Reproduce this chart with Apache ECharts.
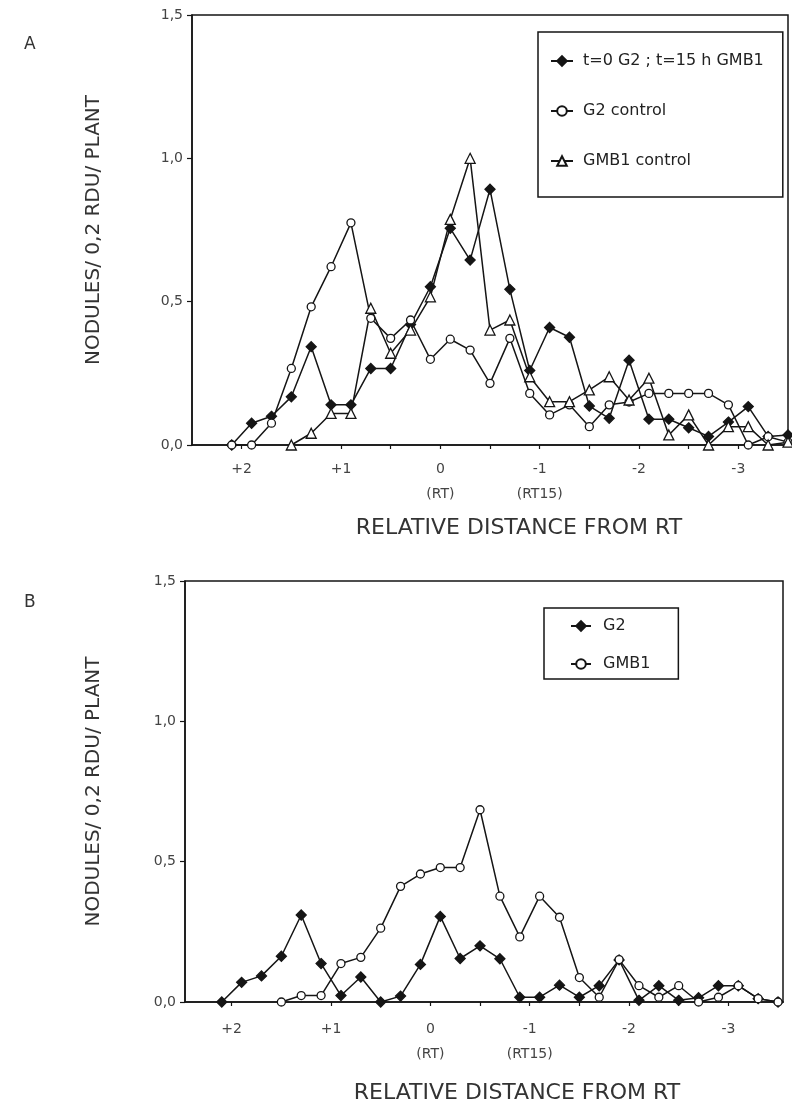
<!DOCTYPE html>
<html>
<head>
<meta charset="utf-8">
<script src="https://cdn.jsdelivr.net/npm/echarts@6/dist/echarts.min.js"></script>
<style>
html, body { margin: 0; padding: 0; background: #fff; }
#chart { width: 792px; height: 1105px; }
</style>
</head>
<body>
<div id="chart"></div>
<script>
// centre of each 0.2 RDU bin, relative distance from RT
const distances = [2.1, 1.9, 1.7, 1.5, 1.3, 1.1, 0.9, 0.7, 0.5, 0.3, 0.1, -0.1, -0.3, -0.5, -0.7,
  -0.9, -1.1, -1.3, -1.5, -1.7, -1.9, -2.1, -2.3, -2.5, -2.7, -2.9, -3.1, -3.3, -3.5]

// panel A
const aInoculated = [0, 0.076, 0.1, 0.168, 0.343, 0.14, 0.14, 0.267, 0.267, 0.42, 0.552, 0.756, 0.645, 0.892, 0.543,
  0.26, 0.41, 0.376, 0.136, 0.093, 0.296, 0.09, 0.09, 0.06, 0.03, 0.08, 0.134, 0.03, 0.035]
const aG2Control = [0, 0, 0.076, 0.267, 0.482, 0.622, 0.775, 0.442, 0.372, 0.436, 0.299, 0.369, 0.331, 0.215, 0.372,
  0.18, 0.105, 0.14, 0.064, 0.14, 0.15, 0.18, 0.18, 0.18, 0.18, 0.14, 0, 0.029, 0.01]
const aGMB1Control = [null, null, null, 0, 0.041, 0.11, 0.11, 0.477, 0.32, 0.401, 0.517, 0.787, 1.0, 0.401, 0.436,
  0.238, 0.151, 0.151, 0.192, 0.238, 0.157, 0.233, 0.035, 0.105, 0, 0.064, 0.064, 0, 0.01]

// panel B
const bG2 = [0, 0.07, 0.093, 0.163, 0.31, 0.137, 0.023, 0.089, 0, 0.021, 0.134, 0.305, 0.155, 0.2, 0.154,
  0.017, 0.017, 0.06, 0.017, 0.058, 0.15, 0.006, 0.058, 0.006, 0.015, 0.058, 0.058, 0.012, 0]
const bGMB1 = [null, null, null, 0, 0.023, 0.023, 0.137, 0.159, 0.263, 0.412, 0.456, 0.479, 0.479, 0.685, 0.377,
  0.232, 0.377, 0.302, 0.087, 0.017, 0.151, 0.058, 0.017, 0.058, 0, 0.017, 0.058, 0.012, 0]

const xTickValues = [2, 1.5, 1, 0.5, 0, -0.5, -1, -1.5, -2, -2.5, -3]
const xLabelValues = [2, 1, 0, -1, -2, -3]
const xSubLabels = { '0': '(RT)', '-1': '(RT15)' }

const FONT = 'DejaVu Sans'
const INK = '#151515'

const chart = echarts.init(document.getElementById('chart'))

function pairs (values) {
  const out = []
  values.forEach((v, i) => {
    if (v !== null) out.push([distances[i], v])
  })
  return out
}

function makeSeries (name, values, symbol, filled, idx) {
  return {
    name: name,
    type: 'line',
    xAxisIndex: idx,
    yAxisIndex: idx,
    data: pairs(values),
    symbol: symbol,
    symbolSize: symbol === 'circle' ? 8 : 10,
    showAllSymbol: true,
    lineStyle: { color: INK, width: 1.5 },
    itemStyle: { color: filled ? INK : '#fff', borderColor: INK, borderWidth: 1.3 },
    emphasis: { disabled: true }
  }
}

function xAxis (idx, min, max, margin, gap) {
  return {
    type: 'value',
    gridIndex: idx,
    inverse: true,
    min: min,
    max: max,
    name: 'RELATIVE DISTANCE FROM RT',
    nameLocation: 'middle',
    nameGap: gap,
    nameMoveOverlap: false,
    nameTextStyle: { fontFamily: FONT, fontSize: 22, color: '#333', padding: [0, 0, 0, idx === 0 ? 58 : 66] },
    axisLine: { onZero: false, lineStyle: { color: INK, width: 1.5 } },
    axisTick: { length: 4, customValues: xTickValues, lineStyle: { color: INK, width: 1.2 } },
    axisLabel: {
      customValues: xLabelValues,
      margin: margin,
      fontFamily: FONT,
      fontSize: 14,
      color: '#444',
      lineHeight: 25,
      formatter: function (v) {
        const s = v > 0 ? '+' + v : String(v)
        const sub = xSubLabels[String(v)]
        return sub ? s + '\n' + sub : s
      }
    },
    splitLine: { show: false }
  }
}

function yAxis (idx, gap) {
  return {
    type: 'value',
    gridIndex: idx,
    min: 0,
    max: 1.5,
    interval: 0.5,
    name: 'NODULES/ 0,2 RDU/ PLANT',
    nameLocation: 'middle',
    nameGap: gap,
    nameMoveOverlap: false,
    nameTextStyle: { fontFamily: FONT, fontSize: 20, color: '#333' },
    axisLine: { show: true, onZero: false, lineStyle: { color: INK, width: 1.5 } },
    axisTick: { show: true, length: 5, lineStyle: { color: INK, width: 1.2 } },
    axisLabel: {
      margin: 9,
      fontFamily: FONT,
      fontSize: 14,
      color: '#444',
      formatter: v => v.toFixed(1).replace('.', ',')
    },
    splitLine: { show: false }
  }
}

const option = {
  animation: false,
  backgroundColor: '#fff',
  grid: [
    { left: 192, top: 15, width: 596, height: 430, show: true, borderColor: INK, borderWidth: 1.5 },
    { left: 185, top: 581, width: 598, height: 431, show: true, borderColor: INK, borderWidth: 1.5 }
  ],
  xAxis: [xAxis(0, -3.5, 2.5, 12, 72), xAxis(1, -3.55, 2.47, 15, 80)],
  yAxis: [yAxis(0, 88), yAxis(1, 81)],
  legend: [
    {
      data: ['t=0 G2 ; t=15 h GMB1', 'G2 control', 'GMB1 control'],
      orient: 'vertical',
      left: 538,
      top: 32,
      padding: [21, 19, 28, 12],
      itemGap: 34,
      itemWidth: 22,
      itemHeight: 12,
      borderColor: INK,
      borderWidth: 1.5,
      textStyle: { fontFamily: FONT, fontSize: 16, color: '#222', padding: [0, 0, 0, 5] }
    },
    {
      data: ['G2', 'GMB1'],
      orient: 'vertical',
      left: 544,
      top: 608,
      padding: [10, 28, 7, 26],
      itemGap: 22,
      itemWidth: 20,
      itemHeight: 12,
      borderColor: INK,
      borderWidth: 1.5,
      textStyle: { fontFamily: FONT, fontSize: 16, color: '#222', padding: [0, 0, 0, 7] }
    }
  ],
  graphic: [
    { type: 'text', left: 24, top: 36, style: { text: 'A', fontFamily: FONT, fontSize: 17, fill: '#333' } },
    { type: 'text', left: 24, top: 594, style: { text: 'B', fontFamily: FONT, fontSize: 17, fill: '#333' } }
  ],
  series: [
    makeSeries('t=0 G2 ; t=15 h GMB1', aInoculated, 'diamond', true, 0),
    makeSeries('G2 control', aG2Control, 'circle', false, 0),
    makeSeries('GMB1 control', aGMB1Control, 'triangle', false, 0),
    makeSeries('G2', bG2, 'diamond', true, 1),
    makeSeries('GMB1', bGMB1, 'circle', false, 1)
  ]
}

chart.setOption(option)
window.addEventListener('resize', function () {
  chart.resize()
})
</script>
</body>
</html>
